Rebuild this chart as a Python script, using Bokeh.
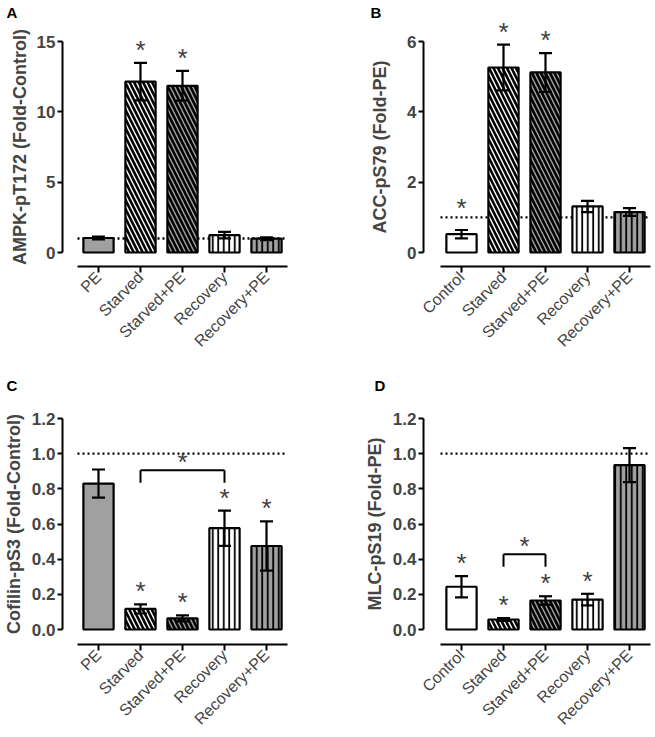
import math
from bokeh.plotting import figure
from bokeh.models import Range1d, FixedTicker, ColumnDataSource
from bokeh.layouts import gridplot
from bokeh.embed import file_html
from bokeh.resources import INLINE
from bokeh.core.properties import value

# ---------------- data ----------------
cats_A = ["PE", "Starved", "Starved+PE", "Recovery", "Recovery+PE"]
mean_A = [1.03, 12.15, 11.85, 1.24, 0.98]
err_A = [0.10, 1.33, 1.06, 0.23, 0.10]
star_A = [False, True, True, False, False]

cats_B = ["Control", "Starved", "Starved+PE", "Recovery", "Recovery+PE"]
mean_B = [0.52, 5.26, 5.12, 1.31, 1.15]
err_B = [0.12, 0.65, 0.55, 0.16, 0.11]
star_B = [True, True, True, False, False]

cats_C = ["PE", "Starved", "Starved+PE", "Recovery", "Recovery+PE"]
mean_C = [0.83, 0.117, 0.063, 0.576, 0.475]
err_C = [0.08, 0.026, 0.017, 0.10, 0.14]
star_C = [False, True, True, True, True]
brackets_C = [(1, 3, 0.906)]

cats_D = ["Control", "Starved", "Starved+PE", "Recovery", "Recovery+PE"]
mean_D = [0.243, 0.057, 0.165, 0.170, 0.935]
err_D = [0.060, 0.008, 0.024, 0.033, 0.097]
star_D = [True, True, True, True, False]
brackets_D = [(1, 2, 0.428)]

ticks_A = [0, 5, 10, 15]
ticks_B = [0, 2, 4, 6]
ticks_CD = [0.0, 0.2, 0.4, 0.6, 0.8, 1.0, 1.2]
reference_level = 1.0

# ---------------- styles ----------------
FONT = "Liberation Sans"
GRAY = "#a0a0a0"
FILL = {"PE": GRAY, "Control": "white", "Starved": "white", "Starved+PE": GRAY,
        "Recovery": "white", "Recovery+PE": GRAY}
HATCH = {"PE": " ", "Control": " ", "Starved": "left_diagonal_line",
         "Starved+PE": "left_diagonal_line", "Recovery": "vertical_line",
         "Recovery+PE": "vertical_line"}
HSCALE = {"PE": 8, "Control": 8, "Starved": 9, "Starved+PE": 9,
          "Recovery": 5.5, "Recovery+PE": 5.5}
HWEIGHT = {"PE": 1, "Control": 1, "Starved": 2.6, "Starved+PE": 2.6,
           "Recovery": 1.8, "Recovery+PE": 1.8}

PPX = 42.0        # px per category
AXIS_PX = 211.0   # px from 0 to the top tick


def make_panel(letter, cats, means, errs, stars, ymax, yticks, ylabel, fmt,
               W, H, axis_x, gap, zero_y, xaxis_gap, label_standoff,
               letter_x, letter_y, brackets=()):
    """All geometry in figure pixels (from the figure's top-left corner)."""
    ppu = AXIS_PX / ymax
    xs0 = -0.5 - (axis_x + gap) / PPX
    xs1 = xs0 + W / PPX
    ys1 = zero_y / ppu
    ys0 = -(H - zero_y) / ppu
    p = figure(width=W, height=H, frame_width=W, frame_height=H,
               x_range=Range1d(xs0, xs1), y_range=Range1d(ys0, ys1),
               output_backend="svg", toolbar_location=None,
               min_border_left=0, min_border_right=0,
               min_border_top=0, min_border_bottom=0)
    p.outline_line_color = None
    p.xgrid.visible = False
    p.ygrid.visible = False
    p.background_fill_color = "white"
    p.border_fill_color = "white"

    def px_x(px):
        return xs0 + px / PPX

    def px_y(py):
        return ys1 - py / ppu

    n = len(cats)
    xs = list(range(n))

    # reference dotted line
    p.segment(x0=[-0.5], y0=[reference_level], x1=[n - 0.5], y1=[reference_level],
              line_color="black", line_width=2.4, line_dash="2 3")

    src = ColumnDataSource(dict(
        x=xs, top=means,
        fill=[FILL[c] for c in cats],
        hatch=[HATCH[c] for c in cats],
        hscale=[HSCALE[c] for c in cats],
        hweight=[HWEIGHT[c] for c in cats]))
    p.vbar(x="x", top="top", bottom=0, width=0.72, source=src,
           fill_color="fill", line_color="black", line_width=2.2,
           hatch_pattern="hatch", hatch_color="black", hatch_weight="hweight",
           hatch_scale="hscale")

    upper = [m + e for m, e in zip(means, errs)]
    lower = [m - e for m, e in zip(means, errs)]
    cw = 6.5 / PPX
    p.segment(x0=xs, y0=lower, x1=xs, y1=upper, line_color="black", line_width=2.2)
    p.segment(x0=[x - cw for x in xs], y0=upper, x1=[x + cw for x in xs], y1=upper,
              line_color="black", line_width=2.2)
    p.segment(x0=[x - cw for x in xs], y0=lower, x1=[x + cw for x in xs], y1=lower,
              line_color="black", line_width=2.2)

    # significance stars (anchor = centre of the asterisk)
    sx, sy = [], []
    for x, u, s in zip(xs, upper, stars):
        if not s:
            continue
        centre = u + 13 / ppu
        if abs(centre - reference_level) * ppu < 8:
            centre = reference_level + 9.5 / ppu
        sx.append(x)
        sy.append(centre)
    for (a, b, h) in brackets:
        drop = 12.5 / ppu
        p.segment(x0=[a, a, b], y0=[h, h, h], x1=[b, a, b], y1=[h, h - drop, h - drop],
                  line_color="black", line_width=2)
        sx.append((a + b) / 2)
        sy.append(h + 8 / ppu)
    if sx:
        p.text(x=sx, y=sy, text=["*"] * len(sx), text_font=value(FONT),
               text_font_size="26px", text_align="center",
               text_baseline="middle", text_color="#404040")

    # panel letter
    p.text(x=[px_x(letter_x)], y=[px_y(letter_y)], text=[letter],
           text_font=value(FONT), text_font_size="15px", text_font_style="bold",
           text_align="left", text_baseline="top", text_color="black")

    # y axis
    ya = p.yaxis[0]
    ya.fixed_location = px_x(axis_x)
    ya.ticker = FixedTicker(ticks=yticks)
    ya.bounds = (0, ymax)
    ya.axis_line_width = 2
    ya.major_tick_line_width = 2
    ya.major_tick_out = 5
    ya.major_tick_in = 0
    ya.minor_tick_line_color = None
    ya.major_label_text_font = FONT
    ya.major_label_text_font_size = "17px"
    ya.major_label_text_font_style = "bold"
    ya.major_label_standoff = 2
    ya.major_label_overrides = {t: fmt.format(t) for t in yticks}
    ya.axis_label = ylabel
    ya.axis_label_text_font = FONT
    ya.axis_label_text_font_size = "18px"
    ya.axis_label_text_font_style = "bold"
    ya.axis_label_standoff = label_standoff

    # x axis (categories)
    xa = p.xaxis[0]
    xa.fixed_location = -xaxis_gap / ppu
    xa.ticker = FixedTicker(ticks=xs)
    xa.bounds = (-0.5, n - 0.5)
    xa.axis_line_width = 2
    xa.major_tick_line_width = 2
    xa.major_tick_out = 6
    xa.major_tick_in = 0
    xa.minor_tick_line_color = None
    xa.major_label_overrides = {i: c for i, c in enumerate(cats)}
    xa.major_label_orientation = math.pi / 4
    xa.major_label_text_font = FONT
    xa.major_label_text_font_size = "16px"
    xa.major_label_text_font_style = "normal"
    xa.major_label_standoff = 2
    return p


# page geometry (the page has no margin): figure px == page px
TOP = dict(H=366, zero_y=252, xaxis_gap=14)
BOT = dict(H=371, zero_y=263, xaxis_gap=15)
LEFT = dict(W=353, axis_x=62, gap=15)
RIGHT = dict(W=302, axis_x=70, gap=17)

pA = make_panel("A", cats_A, mean_A, err_A, star_A, 15, ticks_A,
                "AMPK-pT172 (Fold-Control)", "{:.0f}", label_standoff=4,
                letter_x=6, letter_y=3, **TOP, **LEFT)
pB = make_panel("B", cats_B, mean_B, err_B, star_B, 6, ticks_B,
                "ACC-pS79 (Fold-PE)", "{:.0f}", label_standoff=14,
                letter_x=17, letter_y=3, **TOP, **RIGHT)
pC = make_panel("C", cats_C, mean_C, err_C, star_C, 1.2, ticks_CD,
                "Cofilin-pS3 (Fold-Control)", "{:.1f}", label_standoff=5,
                letter_x=6, letter_y=10, brackets=brackets_C, **BOT, **LEFT)
pD = make_panel("D", cats_D, mean_D, err_D, star_D, 1.2, ticks_CD,
                "MLC-pS19 (Fold-PE)", "{:.1f}", label_standoff=5,
                letter_x=21, letter_y=10, brackets=brackets_D, **BOT, **RIGHT)

grid = gridplot([[pA, pB], [pC, pD]], toolbar_location=None)
open("out.html", "w").write(file_html(grid, INLINE))
